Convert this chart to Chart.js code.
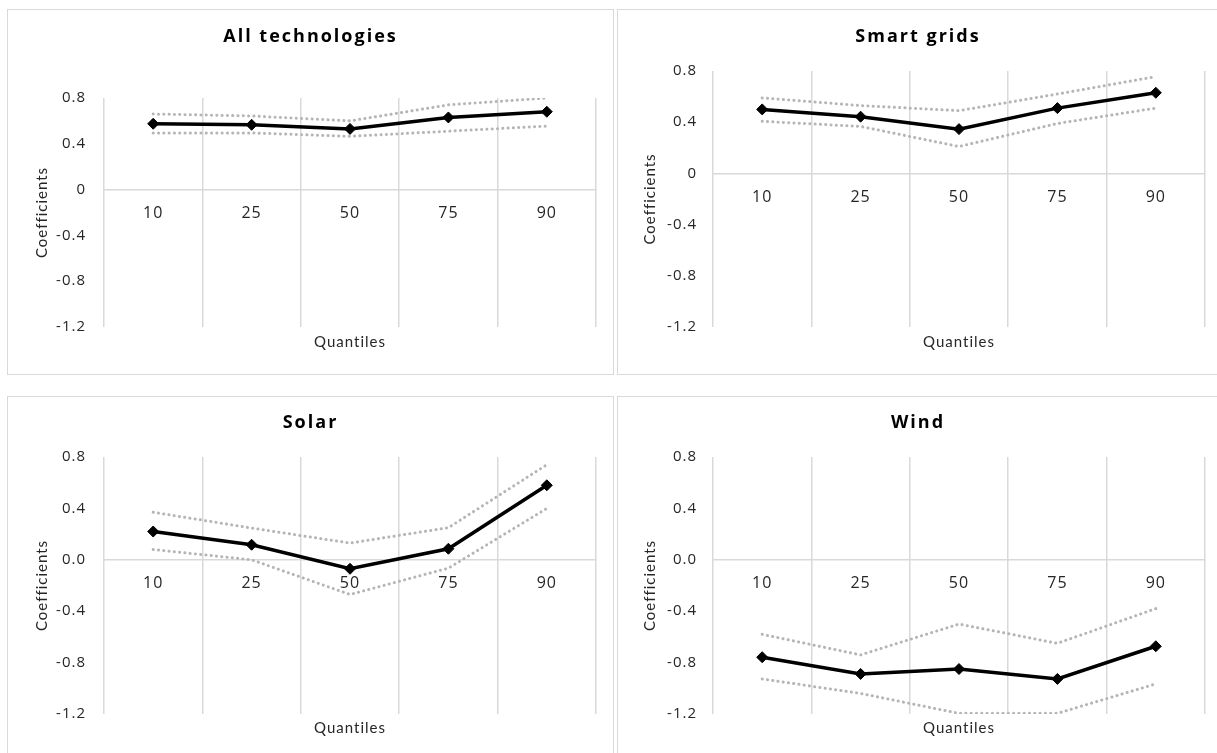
<!DOCTYPE html>
<html>
<head>
<meta charset="utf-8">
<script src="https://cdn.jsdelivr.net/npm/chart.js@4"></script>
<style>
body { margin: 0; background: #fff; width: 1217px; height: 753px; overflow: hidden; position: relative; }
.panel { position: absolute; border: 1px solid #d9d9d9; box-sizing: border-box; background: #fff; }
.panel canvas { position: absolute; left: 0; top: 0; }
</style>
</head>
<body>
<div class="panel" style="left:7px;top:9px;width:607px;height:366px"><canvas id="c1" width="605" height="364"></canvas></div>
<div class="panel" style="left:617px;top:9px;width:602px;height:366px"><canvas id="c2" width="600" height="364"></canvas></div>
<div class="panel" style="left:7px;top:396px;width:607px;height:366px"><canvas id="c3" width="605" height="364"></canvas></div>
<div class="panel" style="left:617px;top:396px;width:602px;height:366px"><canvas id="c4" width="600" height="364"></canvas></div>
<script>
const quantiles = ['10', '25', '50', '75', '90'];
const yTicks = [0.8, 0.4, 0, -0.4, -0.8, -1.2];
const yLabelsTop = ['0.8', '0.4', '0', '-0.4', '-0.8', '-1.2'];
const yLabelsBottom = ['0.8', '0.4', '0.0', '-0.4', '-0.8', '-1.2'];

const allTechCoef = [0.575, 0.566, 0.53, 0.63, 0.68];
const allTechUpper = [0.66, 0.643, 0.60, 0.74, 0.80];
const allTechLower = [0.495, 0.495, 0.465, 0.51, 0.555];

const smartCoef = [0.50, 0.443, 0.346, 0.51, 0.63];
const smartUpper = [0.59, 0.53, 0.49, 0.62, 0.756];
const smartLower = [0.407, 0.367, 0.21, 0.39, 0.51];

const solarCoef = [0.22, 0.117, -0.07, 0.086, 0.58];
const solarUpper = [0.37, 0.247, 0.13, 0.25, 0.74];
const solarLower = [0.08, 0.0, -0.27, -0.065, 0.40];

const windCoef = [-0.758, -0.888, -0.85, -0.927, -0.673];
const windUpper = [-0.58, -0.74, -0.50, -0.65, -0.38];
const windLower = [-0.927, -1.04, -1.195, -1.195, -0.966];

const dotted = (data) => ({
    data: data,
    borderColor: '#b5b5b5',
    borderWidth: 3,
    borderDash: [0.1, 5.2],
    borderCapStyle: 'round',
    pointRadius: 0,
    tension: 0
});

// Excel-style text is a little spaced out; the title more so
const letterSpacing = {
    id: 'letterSpacing',
    beforeDraw(chart) {
        chart.ctx.letterSpacing = '1px';
        const tb = chart.titleBlock;
        if (tb && !tb._spaced) {
            const draw = tb.draw;
            tb.draw = function () {
                const prev = this.ctx.letterSpacing;
                this.ctx.letterSpacing = '2px';
                draw.call(this);
                this.ctx.letterSpacing = prev;
            };
            tb._spaced = true;
        }
    },
    afterDraw(chart) {
        chart.ctx.letterSpacing = '0px';
    }
};

function makePanel(id, title, coef, upper, lower, yLabels, lay) {
    new Chart(document.getElementById(id), {
        type: 'line',
        data: {
            labels: quantiles,
            datasets: [
                {
                    data: coef,
                    borderColor: '#000',
                    borderWidth: 3.5,
                    pointStyle: 'rectRot',
                    pointRadius: 5.5,
                    pointBackgroundColor: '#000',
                    pointBorderColor: '#000',
                    pointBorderWidth: 1,
                    tension: 0
                },
                dotted(upper),
                dotted(lower)
            ]
        },
        plugins: [letterSpacing],
        options: {
            responsive: false,
            animation: false,
            layout: { padding: 0 },
            plugins: {
                legend: { display: false },
                tooltip: { enabled: false },
                title: {
                    display: true,
                    text: title,
                    color: '#000',
                    font: { family: 'Open Sans', size: 18, weight: 'bold' },
                    padding: { top: lay.titleTop, bottom: lay.titleBottom }
                }
            },
            scales: {
                x: {
                    type: 'category',
                    position: { y: 0 },
                    offset: true,
                    grid: { offset: true, color: '#d9d9d9', lineWidth: 1.5, drawTicks: false },
                    border: { color: '#d9d9d9', width: 1.5 },
                    ticks: { font: { family: 'Open Sans', size: 16 }, color: '#262626', padding: 14, maxRotation: 0 }
                },
                x2: {
                    type: 'category',
                    position: 'bottom',
                    grid: { display: false, drawTicks: false },
                    border: { display: false },
                    ticks: { display: false },
                    title: {
                        display: true,
                        text: 'Quantiles',
                        color: '#262626',
                        font: { family: 'Lato', size: 15 },
                        padding: { top: 0, bottom: lay.qBottom }
                    },
                    afterFit: s => { s.height = lay.x2h; }
                },
                y: {
                    position: 'left',
                    min: -1.2,
                    max: 0.8,
                    grid: { display: false, drawTicks: false },
                    border: { display: false },
                    afterBuildTicks: s => { s.ticks = yTicks.map(v => ({ value: v })); },
                    ticks: {
                        padding: lay.tickPad,
                        color: '#262626',
                        font: { family: 'Open Sans', size: 15 },
                        callback: v => yLabels[yTicks.findIndex(t => Math.abs(t - v) < 1e-6)]
                    },
                    title: {
                        display: true,
                        text: 'Coefficients',
                        color: '#262626',
                        font: { family: 'Lato', size: 15 },
                        padding: { top: lay.cTop, bottom: 0 }
                    },
                    afterFit: s => { s.width = lay.yw; }
                },
                // empty right-hand strip so the title stays centred on the whole panel
                yRight: {
                    type: 'linear',
                    position: 'right',
                    display: true,
                    grid: { display: false, drawTicks: false },
                    border: { display: false },
                    ticks: { display: false },
                    afterFit: s => { s.width = lay.right; }
                }
            }
        }
    });
}

makePanel('c1', 'All technologies', allTechCoef, allTechUpper, allTechLower, yLabelsTop,
    { right: 17, titleTop: 16.2, titleBottom: 50.2, x2h: 47, qBottom: 23, yw: 96, cTop: 25, tickPad: 18 });
makePanel('c2', 'Smart grids', smartCoef, smartUpper, smartLower, yLabelsTop,
    { right: 13, titleTop: 16.2, titleBottom: 23.2, x2h: 47, qBottom: 23, yw: 95, cTop: 23, tickPad: 16 });
makePanel('c3', 'Solar', solarCoef, solarUpper, solarLower, yLabelsBottom,
    { right: 17, titleTop: 15.2, titleBottom: 23.2, x2h: 47, qBottom: 24, yw: 96, cTop: 25, tickPad: 18 });
makePanel('c4', 'Wind', windCoef, windUpper, windLower, yLabelsBottom,
    { right: 13, titleTop: 15.2, titleBottom: 23.2, x2h: 47, qBottom: 24, yw: 95, cTop: 23, tickPad: 16 });
</script>
</body>
</html>
